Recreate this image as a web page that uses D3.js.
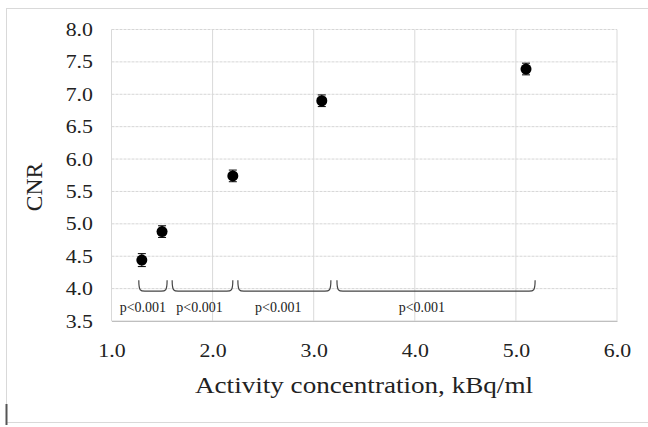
<!DOCTYPE html>
<html>
<head>
<meta charset="utf-8">
<script src="https://cdn.jsdelivr.net/npm/d3@7"></script>
<style>
  html, body { margin: 0; padding: 0; background: #fff; }
  svg text { font-family: "Liberation Serif", "Times New Roman", "DejaVu Serif", serif; }
</style>
</head>
<body>
<svg id="chart"></svg>
<script>
// data
const concentration = [1.3, 1.5, 2.2, 3.08, 5.1];
const cnr = [4.44, 4.88, 5.74, 6.90, 7.39];
const cnrError = [0.1, 0.09, 0.09, 0.09, 0.09];

const xTicks = [1.0, 2.0, 3.0, 4.0, 5.0, 6.0];
const yTicks = [3.5, 4.0, 4.5, 5.0, 5.5, 6.0, 6.5, 7.0, 7.5, 8.0];

// significance brackets between neighbouring points
const bracketStart = [1.27, 1.60, 2.25, 3.23];
const bracketEnd = [1.55, 2.20, 3.17, 5.19];
const bracketLabelX = [1.31, 1.87, 2.65, 4.07];
const bracketLabels = ["p<0.001", "p<0.001", "p<0.001", "p<0.001"];

const width = 648, height = 427;
const margin = { top: 29.5, right: 31, bottom: 106, left: 111.5 };
const innerW = width - margin.left - margin.right;
const innerH = height - margin.top - margin.bottom;

// the source picture is a bit wide, so text is stretched sideways
const tickStretch = 1.15;
const titleStretch = 1.13;

const svg = d3.select("#chart").attr("width", width).attr("height", height);

// outer chart frame
svg.append("rect")
  .attr("x", 6.5).attr("y", 8.5)
  .attr("width", 660).attr("height", 414)
  .attr("fill", "none").attr("stroke", "#d9d9d9").attr("stroke-width", 1);

const g = svg.append("g").attr("transform", `translate(${margin.left},${margin.top})`);

const x = d3.scaleLinear().domain([1, 6]).range([0, innerW]);
const y = d3.scaleLinear().domain([3.5, 8]).range([innerH, 0]);

// gridlines
g.append("g").selectAll("line").data(yTicks).join("line")
  .attr("x1", 0).attr("x2", innerW)
  .attr("y1", d => y(d)).attr("y2", d => y(d))
  .attr("stroke", "#d6d6d6").attr("stroke-width", 1)
  .attr("stroke-dasharray", d => d === 3.5 ? null : "3,1");

g.append("g").selectAll("line").data(xTicks).join("line")
  .attr("x1", d => x(d)).attr("x2", d => x(d))
  .attr("y1", 0).attr("y2", innerH)
  .attr("stroke", "#d9d9d9").attr("stroke-width", 1);

// axes (labels only, Excel style)
const xAxis = g.append("g")
  .attr("transform", `translate(0,${innerH})`)
  .call(d3.axisBottom(x).tickValues(xTicks).tickFormat(d3.format(".1f")).tickSize(0).tickPadding(23));
xAxis.attr("font-family", null);
xAxis.select(".domain").attr("stroke", "#bfbfbf");
xAxis.selectAll("text")
  .attr("font-size", 19).attr("fill", "#222")
  .attr("transform", `scale(${tickStretch},1)`);

const yAxis = g.append("g")
  .call(d3.axisLeft(y).tickValues(yTicks).tickFormat(d3.format(".1f")).tickSize(0));
yAxis.attr("font-family", null);
yAxis.select(".domain").remove();
yAxis.selectAll("text")
  .attr("font-size", 19).attr("fill", "#222")
  .attr("x", -18.5 / tickStretch)
  .attr("transform", `scale(${tickStretch},1)`);

// error bars
const pts = concentration.map((c, i) => ({ x: c, y: cnr[i], e: cnrError[i] }));
const eb = g.append("g").selectAll("g").data(pts).join("g");
eb.append("line")
  .attr("x1", d => x(d.x)).attr("x2", d => x(d.x))
  .attr("y1", d => y(d.y - d.e)).attr("y2", d => y(d.y + d.e))
  .attr("stroke", "#000").attr("stroke-width", 1);
eb.selectAll("line.cap").data(d => [d.y - d.e, d.y + d.e].map(v => ({ x: d.x, v }))).join("line")
  .attr("class", "cap")
  .attr("x1", d => x(d.x) - 4).attr("x2", d => x(d.x) + 4)
  .attr("y1", d => y(d.v)).attr("y2", d => y(d.v))
  .attr("stroke", "#000").attr("stroke-width", 1);

// markers
g.append("g").selectAll("circle").data(pts).join("circle")
  .attr("cx", d => x(d.x)).attr("cy", d => y(d.y))
  .attr("r", 5.5).attr("fill", "#000");

// brackets
const bTop = 4.13, bBottom = 3.96;
const brackets = bracketStart.map((s, i) => ({ s, e: bracketEnd[i] }));
g.append("g").selectAll("path").data(brackets).join("path")
  .attr("d", d => {
    const x1 = x(d.s), x2 = x(d.e), yt = y(bTop), yb = y(bBottom), r = 6;
    return `M${x1},${yt} C${x1},${yb} ${x1 + 2},${yb} ${x1 + r},${yb} L${x2 - r},${yb} C${x2 - 2},${yb} ${x2},${yb} ${x2},${yt}`;
  })
  .attr("fill", "none").attr("stroke", "#444").attr("stroke-width", 1.2);

g.append("g").selectAll("text").data(bracketLabels).join("text")
  .attr("x", (d, i) => x(bracketLabelX[i]))
  .attr("y", y(3.64))
  .attr("text-anchor", "middle")
  .attr("font-size", 14).attr("fill", "#222")
  .text(d => d);

// axis titles
svg.append("text")
  .attr("transform", `translate(364,393) scale(${titleStretch},1)`)
  .attr("text-anchor", "middle")
  .attr("font-size", 24).attr("fill", "#222")
  .text("Activity concentration, kBq/ml");

svg.append("text")
  .attr("transform", "translate(42,187) rotate(-90)")
  .attr("text-anchor", "middle")
  .attr("font-size", 23.5).attr("fill", "#222")
  .text("CNR");

// cursor mark at lower left of the frame
svg.append("line")
  .attr("x1", 6.5).attr("x2", 6.5).attr("y1", 404).attr("y2", 425)
  .attr("stroke", "#555").attr("stroke-width", 2);
</script>
</body>
</html>
